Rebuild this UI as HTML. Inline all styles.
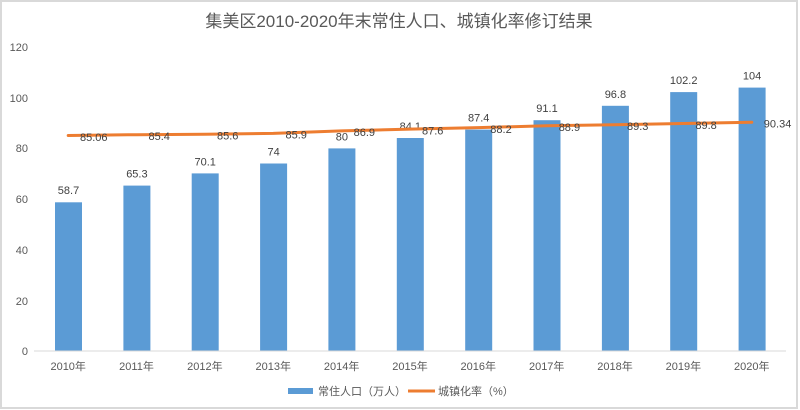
<!DOCTYPE html>
<html><head><meta charset="utf-8"><style>
html,body{margin:0;padding:0;background:#fff;}
svg{display:block;}
text{font-family:"Liberation Sans","Noto Sans CJK SC",sans-serif;fill:#595959;}
</style></head><body>
<svg width="800" height="410" viewBox="0 0 800 410" xmlns="http://www.w3.org/2000/svg">
<rect x="1" y="1" width="796" height="407" fill="#fff" stroke="#d9d9d9" stroke-width="2"/>
<text x="399" y="27" font-size="17" text-anchor="middle">集美区2010-2020年末常住人口、城镇化率修订结果</text>
<g font-size="11" text-anchor="end">
<text x="28" y="51">120</text>
<text x="28" y="102">100</text>
<text x="28" y="152">80</text>
<text x="28" y="203">60</text>
<text x="28" y="254">40</text>
<text x="28" y="305">20</text>
<text x="28" y="355">0</text>
</g>
<g fill="#5b9bd5">
<rect x="55" y="202.3" width="27" height="148.7"/>
<rect x="123.4" y="185.6" width="27" height="165.4"/>
<rect x="191.7" y="173.4" width="27" height="177.6"/>
<rect x="260.1" y="163.5" width="27" height="187.5"/>
<rect x="328.4" y="148.4" width="27" height="202.6"/>
<rect x="396.8" y="138.0" width="27" height="213.0"/>
<rect x="465.2" y="129.6" width="27" height="221.4"/>
<rect x="533.5" y="120.2" width="27" height="230.8"/>
<rect x="601.9" y="105.8" width="27" height="245.2"/>
<rect x="670.2" y="92.1" width="27" height="258.9"/>
<rect x="738.6" y="87.6" width="27" height="263.4"/>
</g>
<line x1="34" y1="351" x2="786" y2="351" stroke="#d9d9d9" stroke-width="1"/>
<g font-size="11" text-anchor="middle" style="fill:#404040">
<text x="68.5" y="194" style="fill:#404040">58.7</text>
<text x="136.9" y="177.6" style="fill:#404040">65.3</text>
<text x="205.2" y="165.4" style="fill:#404040">70.1</text>
<text x="273.6" y="155.5" style="fill:#404040">74</text>
<text x="341.9" y="140.4" style="fill:#404040">80</text>
<text x="410.3" y="130" style="fill:#404040">84.1</text>
<text x="478.7" y="121.6" style="fill:#404040">87.4</text>
<text x="547" y="112.2" style="fill:#404040">91.1</text>
<text x="615.4" y="97.8" style="fill:#404040">96.8</text>
<text x="683.7" y="84.1" style="fill:#404040">102.2</text>
<text x="752.1" y="79.6" style="fill:#404040">104</text>
</g>
<polyline fill="none" stroke="#ed7d31" stroke-width="3" stroke-linecap="round" stroke-linejoin="round"
points="68.2,135.5 136.5,134.7 204.9,134.2 273.3,133.4 341.6,130.9 410,129.1 478.3,127.6 546.7,125.8 615,124.8 683.4,123.5 751.8,122.2"/>
<g font-size="11" style="fill:#404040">
<text x="80" y="141" style="fill:#404040">85.06</text>
<text x="148.5" y="140" style="fill:#404040">85.4</text>
<text x="217" y="139.5" style="fill:#404040">85.6</text>
<text x="285.5" y="138.5" style="fill:#404040">85.9</text>
<text x="353.6" y="136" style="fill:#404040">86.9</text>
<text x="422" y="134.5" style="fill:#404040">87.6</text>
<text x="490.3" y="133" style="fill:#404040">88.2</text>
<text x="558.7" y="131" style="fill:#404040">88.9</text>
<text x="627" y="130" style="fill:#404040">89.3</text>
<text x="695.4" y="129" style="fill:#404040">89.8</text>
<text x="763.8" y="127.5" style="fill:#404040">90.34</text>
</g>
<g font-size="11" text-anchor="middle">
<text x="68.2" y="370">2010年</text>
<text x="136.5" y="370">2011年</text>
<text x="204.9" y="370">2012年</text>
<text x="273.3" y="370">2013年</text>
<text x="341.6" y="370">2014年</text>
<text x="410" y="370">2015年</text>
<text x="478.3" y="370">2016年</text>
<text x="546.7" y="370">2017年</text>
<text x="615" y="370">2018年</text>
<text x="683.4" y="370">2019年</text>
<text x="751.8" y="370">2020年</text>
</g>
<rect x="288" y="388" width="25" height="6" fill="#5b9bd5"/>
<text x="318" y="395" font-size="11">常住人口（万人）</text>
<line x1="408" y1="391" x2="435" y2="391" stroke="#ed7d31" stroke-width="3"/>
<text x="438" y="395" font-size="11">城镇化率（%）</text>
</svg>
</body></html>
